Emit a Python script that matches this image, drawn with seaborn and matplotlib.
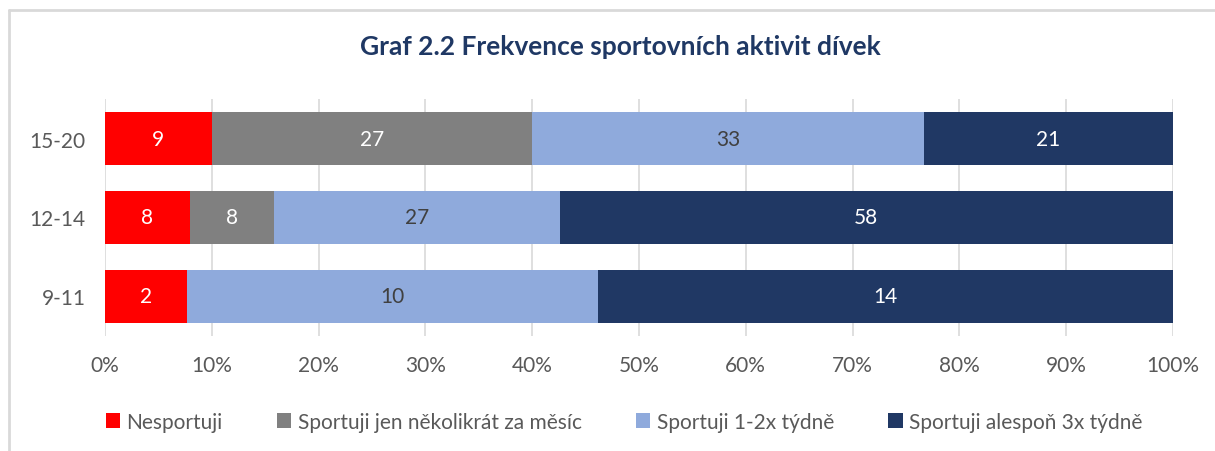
import matplotlib
matplotlib.use("Agg")
from matplotlib import pyplot as plt
from matplotlib.patches import Patch
from matplotlib.lines import Line2D
import numpy as np
import pandas as pd
import seaborn as sns

# Data
age_groups = ["15-20", "12-14", "9-11"]
series_names = [
    "Nesportuji",
    "Sportuji jen několikrát za měsíc",
    "Sportuji 1-2x týdně",
    "Sportuji alespoň 3x týdně",
]
nesportuji = [9, 8, 2]
nekolikrat = [27, 8, 0]
jednou_dvakrat = [33, 27, 10]
trikrat = [21, 58, 14]
x_ticks = [0, 10, 20, 30, 40, 50, 60, 70, 80, 90, 100]

colors = ["#FF0000", "#808080", "#8FAADC", "#203864"]
label_colors = ["white", "white", "#404040", "white"]

sns.set_style("white")
plt.rcParams["font.family"] = ["Lato", "DejaVu Sans"]

counts = np.array([nesportuji, nekolikrat, jednou_dvakrat, trikrat], dtype=float)
totals = counts.sum(axis=0)
pct = counts / totals * 100
cum = np.cumsum(pct, axis=0)

fig = plt.figure(figsize=(12.15, 4.52), dpi=100)
ax = fig.add_axes([105 / 1215, 1 - 337 / 452, (1173 - 105) / 1215, 237 / 452])

# stacked via overlaid cumulative bars, drawn from the longest down
for i in range(3, -1, -1):
    df = pd.DataFrame({"group": age_groups, "value": cum[i]})
    sns.barplot(data=df, x="value", y="group", order=age_groups, color=colors[i],
                saturation=1, width=0.68, ax=ax, zorder=2, edgecolor="none")

# data labels
for i in range(4):
    for j, g in enumerate(age_groups):
        if counts[i, j] <= 0:
            continue
        center = cum[i, j] - pct[i, j] / 2
        ax.text(center, j, f"{int(counts[i, j])}", ha="center", va="center",
                color=label_colors[i], fontsize=15, zorder=3)

ax.set_xlim(0, 100)
ax.set_ylim(2.5, -0.5)
ax.set_xticks(x_ticks)
ax.set_xticklabels([f"{t}%" for t in x_ticks])
ax.grid(axis="x", color="#D9D9D9", linewidth=1.2, zorder=0)
ax.set_axisbelow(True)
for s in ax.spines.values():
    s.set_visible(False)
ax.set_xlabel("")
ax.set_ylabel("")
ax.tick_params(axis="both", length=0, labelsize=15, labelcolor="#595959")
ax.tick_params(axis="x", pad=14)
ax.tick_params(axis="y", pad=14)

fig.text(620 / 1215, 1 - 47 / 452, "Graf 2.2 Frekvence sportovních aktivit dívek",
         ha="center", va="center", fontsize=19, fontweight="bold", color="#1F3864")

handles = [Patch(facecolor=c, edgecolor="none") for c in colors]
fig.legend(handles, series_names, loc="center", bbox_to_anchor=(624 / 1215, 1 - 423 / 452),
           ncol=4, frameon=False, fontsize=15, handlelength=0.7, handleheight=0.7,
           handletextpad=0.3, columnspacing=2.6, labelcolor="#595959")

# outer chart border (only top and left edges are inside the picture)
fig.add_artist(Line2D([9 / 1215, 1], [1 - 11 / 452, 1 - 11 / 452],
                      transform=fig.transFigure, color="#D9D9D9", linewidth=2))
fig.add_artist(Line2D([9 / 1215, 9 / 1215], [0, 1 - 11 / 452],
                      transform=fig.transFigure, color="#D9D9D9", linewidth=2))

plt.savefig("out.png", dpi=100)
plt.close()
